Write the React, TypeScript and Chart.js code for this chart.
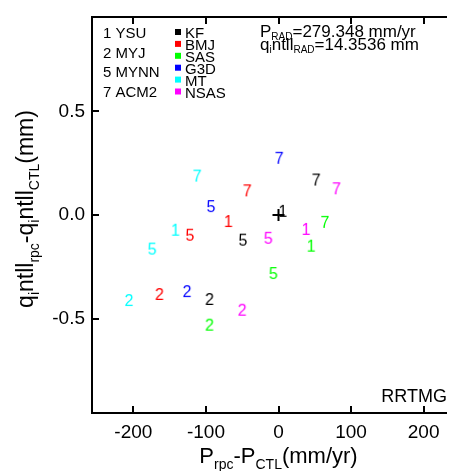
import React, { useEffect, useRef } from "react";
import { Chart, registerables } from "chart.js";
Chart.register(...registerables);

const FONT = "'Liberation Sans', Arial, Helvetica, sans-serif";

const schemeNames = ["KF", "BMJ", "SAS", "G3D", "MT", "NSAS"];
const schemeColors = ["#000000", "#ff0000", "#00ff00", "#0000ff", "#00ffff", "#ff00ff"];
const pblNames = ["1 YSU", "2 MYJ", "5 MYNN", "7 ACM2"];

const kfLabels = ["1", "2", "5", "7"];
const kfX = [6, -95, -49, 52];
const kfY = [0.02, -0.405, -0.119, 0.171];

const bmjLabels = ["1", "2", "5", "7"];
const bmjX = [-69, -164, -122, -43];
const bmjY = [-0.029, -0.381, -0.095, 0.119];

const sasLabels = ["1", "2", "5", "7"];
const sasX = [45, -95, -7, 64];
const sasY = [-0.148, -0.529, -0.28, -0.033];

const g3dLabels = ["2", "5", "7"];
const g3dX = [-126, -93, 1];
const g3dY = [-0.367, 0.043, 0.276];

const mtLabels = ["1", "2", "5", "7"];
const mtX = [-142, -206, -174, -112];
const mtY = [-0.071, -0.41, -0.162, 0.19];

const nsasLabels = ["1", "2", "5", "7"];
const nsasX = [38, -50, -14, 80];
const nsasY = [-0.067, -0.457, -0.11, 0.129];

const ctlX = [0];
const ctlY = [0];

const xTicks = [-200, -100, 0, 100, 200];
const yTicks = [-0.5, 0, 0.5];
const xMin = -257;
const xMax = 257;
const yMin = -0.955;
const yMax = 0.955;

const infoLine1: [string, boolean][] = [["P", false], ["RAD", true], ["=279.348 mm/yr", false]];
const infoLine2: [string, boolean][] = [["q", false], ["i", true], ["ntll", false], ["RAD", true], ["=14.3536 mm", false]];
const xTitle: [string, boolean][] = [["P", false], ["rpc", true], ["-P", false], ["CTL", true], ["(mm/yr)", false]];
const yTitle: [string, boolean][] = [["q", false], ["i", true], ["ntll", false], ["rpc", true], ["-q", false], ["i", true], ["ntll", false], ["CTL", true], ["(mm)", false]];
const cornerLabel = "RRTMG";

function glyph(text: string, color: string, size: number) {
  const c = document.createElement("canvas");
  c.width = 24;
  c.height = 24;
  const g = c.getContext("2d")!;
  g.font = `${size}px ${FONT}`;
  g.fillStyle = color;
  g.textAlign = "center";
  g.textBaseline = "alphabetic";
  g.fillText(text, 12, 12 + size * 0.716 / 2);
  return c;
}

function richWidth(ctx: CanvasRenderingContext2D, parts: [string, boolean][], size: number, subScale: number) {
  let w = 0;
  for (const [t, sub] of parts) {
    ctx.font = `${sub ? Math.round(size * subScale) : size}px ${FONT}`;
    w += ctx.measureText(t).width;
  }
  return w;
}

function drawRich(
  ctx: CanvasRenderingContext2D,
  parts: [string, boolean][],
  x: number,
  y: number,
  size: number,
  align: "left" | "center" | "right",
  subScale = 0.62,
  subShift = 0.22
) {
  const w = richWidth(ctx, parts, size, subScale);
  let cx = align === "left" ? x : align === "center" ? x - w / 2 : x - w;
  ctx.textAlign = "left";
  ctx.textBaseline = "alphabetic";
  for (const [t, sub] of parts) {
    ctx.font = `${sub ? Math.round(size * subScale) : size}px ${FONT}`;
    ctx.fillText(t, cx, sub ? y + size * subShift : y);
    cx += ctx.measureText(t).width;
  }
}

function makeData(xs: number[], ys: number[]) {
  return xs.map((x, i) => ({ x, y: ys[i] }));
}

export default function App() {
  const ref = useRef<HTMLCanvasElement>(null);
  useEffect(() => {
    const canvas = ref.current!;
    const series = [
      { xs: kfX, ys: kfY, labels: kfLabels },
      { xs: bmjX, ys: bmjY, labels: bmjLabels },
      { xs: sasX, ys: sasY, labels: sasLabels },
      { xs: g3dX, ys: g3dY, labels: g3dLabels },
      { xs: mtX, ys: mtY, labels: mtLabels },
      { xs: nsasX, ys: nsasY, labels: nsasLabels },
    ];
    const datasets: any[] = series.map((s, i) => ({
      label: schemeNames[i],
      data: makeData(s.xs, s.ys),
      pointStyle: s.labels.map((l) => glyph(l, schemeColors[i], 16)),
      pointRadius: 8,
      showLine: false,
    }));
    datasets.push({
      label: "CTL",
      data: makeData(ctlX, ctlY),
      pointStyle: "cross",
      pointRadius: 6,
      borderWidth: 2,
      borderColor: "#000",
      showLine: false,
    });

    const decor = {
      id: "decor",
      afterDraw(chart: any) {
        const ctx: CanvasRenderingContext2D = chart.ctx;
        const a = chart.chartArea;
        const xs = chart.scales.x;
        const ys = chart.scales.y;
        ctx.save();
        ctx.strokeStyle = "#000";
        ctx.lineWidth = 2;
        ctx.strokeRect(a.left, a.top, a.right - a.left, a.bottom - a.top);
        ctx.beginPath();
        for (const v of xTicks) {
          const px = Math.round(xs.getPixelForValue(v));
          ctx.moveTo(px, a.bottom);
          ctx.lineTo(px, a.bottom - 7);
          ctx.moveTo(px, a.top);
          ctx.lineTo(px, a.top + 7);
        }
        for (const v of yTicks) {
          const py = Math.round(ys.getPixelForValue(v));
          ctx.moveTo(a.left, py);
          ctx.lineTo(a.left + 7, py);
        }
        ctx.stroke();

        ctx.fillStyle = "#000";
        // PBL legend
        ctx.font = `15px ${FONT}`;
        ctx.textAlign = "left";
        ctx.textBaseline = "alphabetic";
        pblNames.forEach((n, i) => {
          ctx.fillText(n, 95, 30 + i * 19.6);
        });
        // scheme legend
        schemeNames.forEach((n, i) => {
          const by = 30 + i * 11.9;
          ctx.fillStyle = schemeColors[i];
          ctx.fillRect(167, by - 9, 6, 6);
          ctx.fillStyle = "#000";
          ctx.font = `15px ${FONT}`;
          ctx.fillText(n, 177, by);
        });
        // info text
        drawRich(ctx, infoLine1, 252, 29, 17, "left", 0.6, 0.18);
        drawRich(ctx, infoLine2, 252, 42, 17, "left", 0.6, 0.18);
        // corner label
        ctx.font = `18px ${FONT}`;
        ctx.textAlign = "right";
        ctx.fillStyle = "#000";
        ctx.fillText(cornerLabel, 439, 394);
        // axis titles
        drawRich(ctx, xTitle, xs.getPixelForValue(0), 455, 22, "center", 0.62, 0.28);
        ctx.save();
        ctx.translate(25, 201);
        ctx.rotate(-Math.PI / 2);
        drawRich(ctx, yTitle, 0, 0, 23, "center", 0.62, 0.28);
        ctx.restore();
        ctx.restore();
      },
    };

    const chart = new Chart(canvas, {
      type: "scatter",
      data: { datasets },
      options: {
        animation: false,
        responsive: false,
        devicePixelRatio: 1,
        layout: { padding: { top: 4, right: 13, left: 0, bottom: 0 } },
        plugins: { legend: { display: false }, tooltip: { enabled: false } },
        scales: {
          x: {
            type: "linear",
            min: xMin,
            max: xMax,
            grid: { display: false, drawTicks: false },
            border: { display: false },
            afterBuildTicks: (s: any) => {
              s.ticks = xTicks.map((v) => ({ value: v }));
            },
            afterFit: (s: any) => {
              s.height = 58;
              s.paddingLeft = 0;
              s.paddingRight = 0;
            },
            ticks: {
              padding: 8,
              color: "#000",
              font: { family: FONT, size: 19 },
              callback: (v: any) => String(v),
            },
          },
          y: {
            type: "linear",
            min: yMin,
            max: yMax,
            grid: { display: false, drawTicks: false },
            border: { display: false },
            afterBuildTicks: (s: any) => {
              s.ticks = yTicks.map((v) => ({ value: v }));
            },
            afterFit: (s: any) => {
              s.width = 84;
              s.paddingTop = 0;
              s.paddingBottom = 0;
            },
            ticks: {
              padding: 7,
              color: "#000",
              font: { family: FONT, size: 19 },
              callback: (v: any) => Number(v).toFixed(1),
            },
          },
        },
      },
      plugins: [decor],
    });
    return () => chart.destroy();
  }, []);
  return (
    <div style={{ width: 447, height: 463, overflow: "hidden" }}>
      <canvas ref={ref} width={470} height={463} style={{ display: "block", width: 470, height: 463 }} />
    </div>
  );
}
